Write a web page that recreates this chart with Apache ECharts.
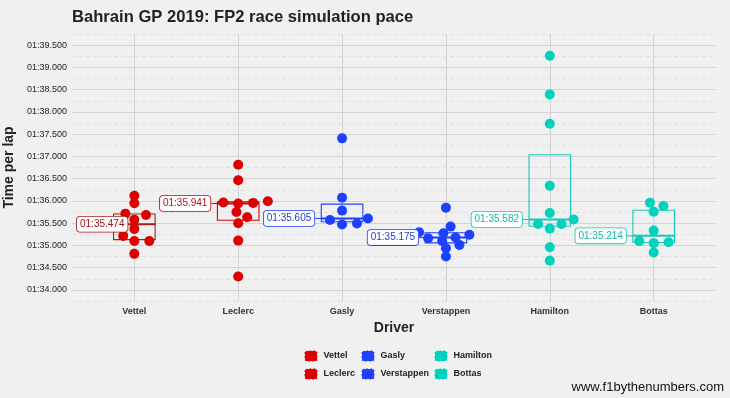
<!DOCTYPE html>
<html>
<head>
<meta charset="utf-8">
<script src="https://cdn.jsdelivr.net/npm/echarts@6.0.0/dist/echarts.min.js"></script>
<style>
  html, body { margin: 0; background: #f0f0f0; }
  #chart { width: 730px; height: 398px; }
</style>
</head>
<body>
<div id="chart"></div>
<script>
// lap times in seconds
const drivers = ['Vettel', 'Leclerc', 'Gasly', 'Verstappen', 'Hamilton', 'Bottas'];
const vettelLaps = [96.117, 95.946, 95.713, 95.684, 95.578, 95.370, 95.213, 95.100, 95.100, 94.809];
const leclercLaps = [96.813, 96.462, 95.990, 95.965, 95.955, 95.941, 95.750, 95.632, 95.497, 95.107, 94.300];
const gaslyLaps = [97.405, 96.073, 95.781, 95.605, 95.570, 95.490, 95.470];
const verstappenLaps = [95.848, 95.422, 95.296, 95.274, 95.240, 95.175, 95.161, 95.100, 95.011, 94.937, 94.750];
const hamiltonLaps = [99.260, 98.393, 97.734, 96.342, 95.729, 95.582, 95.482, 95.482, 95.377, 94.959, 94.658];
const bottasLaps = [95.960, 95.886, 95.758, 95.332, 95.096, 95.070, 95.050, 94.840];
const allLaps = [vettelLaps, leclercLaps, gaslyLaps, verstappenLaps, hamiltonLaps, bottasLaps];

const pointColors = ['#dc0000', '#dc0000', '#1e41ff', '#1e41ff', '#00d2be', '#00d2be'];
const boxColors = ['#a81c1c', '#d10000', '#1e41ff', '#1e41ff', '#16c9b8', '#16c9b8'];
const labelColors = ['#a3101c', '#b3101c', '#1e3fd0', '#1e3fd0', '#17b3a6', '#17b3a6'];

const BOX_HALF = 0.2;
const FONT = '"Liberation Sans", Arial, sans-serif';

function lapTime(v) {
  const m = Math.floor(v / 60);
  const s = v - m * 60;
  return String(m).padStart(2, '0') + ':' + s.toFixed(3).padStart(6, '0');
}

// R type 7 quantile
function quantile(arr, p) {
  const s = arr.slice().sort((a, b) => a - b);
  const h = (s.length - 1) * p;
  const lo = Math.floor(h);
  const hi = Math.min(lo + 1, s.length - 1);
  return s[lo] + (h - lo) * (s[hi] - s[lo]);
}

const boxData = allLaps.map((laps, i) => [i + 1, quantile(laps, 0.25), quantile(laps, 0.5), quantile(laps, 0.75)]);
const medianData = boxData.map(b => [b[0], b[2]]);

const measureCtx = document.createElement('canvas').getContext('2d');

const chart = echarts.init(document.getElementById('chart'));

function yAxisBase() {
  return {
    type: 'value',
    min: 93.75,
    max: 99.75,
    interval: 0.25,
    axisLine: { show: false },
    axisTick: { show: false }
  };
}

const option = {
  backgroundColor: '#f0f0f0',
  animation: false,
  title: {
    text: 'Bahrain GP 2019: FP2 race simulation pace',
    left: 72,
    top: 9,
    padding: 0,
    textStyle: { fontFamily: FONT, fontSize: 16.6, fontWeight: 'bold', color: '#222' }
  },
  grid: { left: 72, right: 14, top: 34, bottom: 97, containLabel: false, outerBoundsMode: 'none' },
  legend: [
    { data: ['Vettel', 'Leclerc'], left: 304 },
    { data: ['Gasly', 'Verstappen'], left: 361 },
    { data: ['Hamilton', 'Bottas'], left: 434 }
  ].map(l => Object.assign({
    orient: 'vertical',
    top: 350,
    padding: 0,
    itemGap: 6,
    itemWidth: 13,
    itemHeight: 11,
    icon: 'roundRect',
    selectedMode: false,
    itemStyle: { borderColor: '#ffffff', borderWidth: 1, borderType: [2, 2] },
    textStyle: { fontFamily: FONT, fontSize: 9, fontWeight: 'bold', color: '#222', padding: [0, 0, 0, 1] }
  }, l)),
  graphic: [{
    type: 'text',
    right: 6,
    top: 381,
    style: { text: 'www.f1bythenumbers.com', font: '13px ' + FONT, fill: '#111' }
  }],
  xAxis: {
    type: 'value',
    min: 0.4,
    max: 6.6,
    interval: 0.2,
    name: 'Driver',
    nameLocation: 'middle',
    nameGap: 15,
    nameTextStyle: { fontFamily: FONT, fontSize: 14, fontWeight: 'bold', color: '#222' },
    axisLine: { show: false },
    axisTick: { show: false },
    axisLabel: {
      margin: 6,
      fontFamily: FONT,
      fontSize: 9,
      fontWeight: 'bold',
      color: '#333',
      formatter: v => {
        const k = Math.round(v);
        return Math.abs(v - k) < 1e-6 && k >= 1 && k <= drivers.length ? drivers[k - 1] : '';
      }
    },
    splitLine: {
      show: true,
      lineStyle: { color: ['transparent', 'transparent', 'transparent', '#d4d4d4', 'transparent'], width: 1 }
    }
  },
  yAxis: [
    Object.assign(yAxisBase(), {
      name: 'Time per lap',
      nameLocation: 'middle',
      nameGap: 27,
      nameTextStyle: { fontFamily: FONT, fontSize: 14, fontWeight: 'bold', color: '#222' },
      axisLabel: {
        margin: 5,
        fontFamily: FONT,
        fontSize: 9,
        color: '#222',
        formatter: v => (Math.round(v * 4) % 2 === 0 ? lapTime(v) : '')
      },
      splitLine: { show: true, lineStyle: { color: ['transparent', '#d4d4d4'], width: 1 } }
    }),
    Object.assign(yAxisBase(), {
      position: 'left',
      axisLabel: { show: false },
      splitLine: { show: true, lineStyle: { color: ['#e0e0e0', 'transparent'], width: 1, type: [4, 3] } }
    })
  ],
  series: []
};

function buildSeries(xsList) {
  const series = [];
  series.push({
    type: 'custom',
    z: 2,
    silent: true,
    data: boxData,
    renderItem: (params, api) => {
      const i = params.dataIndex;
      const x = api.value(0);
      const lo = api.coord([x - BOX_HALF, api.value(1)]);
      const hi = api.coord([x + BOX_HALF, api.value(3)]);
      const mid = api.coord([x, api.value(2)]);
      const c = boxColors[i];
      return {
        type: 'group',
        children: [
          { type: 'rect', shape: { x: lo[0], y: hi[1], width: hi[0] - lo[0], height: lo[1] - hi[1] },
            style: { fill: 'none', stroke: c, lineWidth: 1.1 } },
          { type: 'line', shape: { x1: lo[0], y1: mid[1], x2: hi[0], y2: mid[1] },
            style: { stroke: c, lineWidth: 2 } }
        ]
      };
    }
  });
  drivers.forEach((d, i) => {
    series.push({
      type: 'scatter',
      name: d,
      z: 3,
      symbolSize: 10,
      itemStyle: { color: pointColors[i], opacity: 1 },
      data: allLaps[i].map((v, j) => [xsList ? xsList[i][j] : i + 1, v])
    });
  });
  series.push({
    type: 'custom',
    z: 4,
    silent: true,
    data: medianData,
    renderItem: (params, api) => {
      const i = params.dataIndex;
      const x = api.value(0);
      const med = api.value(1);
      const edge = api.coord([x - BOX_HALF, med]);
      const txt = lapTime(med);
      measureCtx.font = '10px ' + FONT;
      const w = measureCtx.measureText(txt).width + 8;
      const cs = params.coordSys;
      let right = edge[0] - 6;
      if (right - w < cs.x + 4) right = cs.x + 4 + w;
      const children = [];
      if (right < edge[0]) {
        children.push({ type: 'line', shape: { x1: right, y1: edge[1], x2: edge[0], y2: edge[1] },
          style: { stroke: boxColors[i], lineWidth: 1 } });
      }
      children.push({
        type: 'text',
        x: right - w / 2,
        y: edge[1],
        style: {
          text: txt,
          align: 'center',
          verticalAlign: 'middle',
          font: '10px ' + FONT,
          fill: labelColors[i],
          backgroundColor: 'rgba(255,255,255,0.95)',
          borderColor: boxColors[i],
          borderWidth: 0.8,
          borderRadius: 3,
          padding: [3, 3, 2, 3],
          opacity: 1
        }
      });
      return { type: 'group', children: children };
    }
  });
  return series;
}

option.series = buildSeries(null);
chart.setOption(option);

// beeswarm offsets, worked out in pixels then mapped back to axis units
const SX = 15, SY = 7.5;
const pxPerX = chart.convertToPixel({ xAxisIndex: 0 }, 2) - chart.convertToPixel({ xAxisIndex: 0 }, 1);
const pxPerY = chart.convertToPixel({ yAxisIndex: 0 }, 95) - chart.convertToPixel({ yAxisIndex: 0 }, 96);

function swarm(values, center) {
  const order = values.map((v, i) => i).sort((a, b) => values[a] - values[b]);
  const placed = [];
  const out = new Array(values.length);
  order.forEach(i => {
    const y = values[i] * pxPerY;
    const bad = [];
    placed.forEach(p => {
      const dy = Math.abs(p.y - y) / SY;
      if (dy < 1) {
        const hw = SX * Math.sqrt(1 - dy * dy);
        bad.push([p.x - hw, p.x + hw]);
      }
    });
    const cands = [0];
    bad.forEach(b => { cands.push(b[0], b[1]); });
    cands.sort((a, b) => {
      const d = Math.abs(a) - Math.abs(b);
      return Math.abs(d) < 1e-6 ? b - a : d;
    });
    const ok = cands.find(c => bad.every(b => c <= b[0] + 1e-6 || c >= b[1] - 1e-6));
    placed.push({ x: ok, y: y });
    out[i] = center + ok / pxPerX;
  });
  return out;
}

const xsList = allLaps.map((laps, i) => swarm(laps, i + 1));
chart.setOption({ series: buildSeries(xsList) });
</script>
</body>
</html>
